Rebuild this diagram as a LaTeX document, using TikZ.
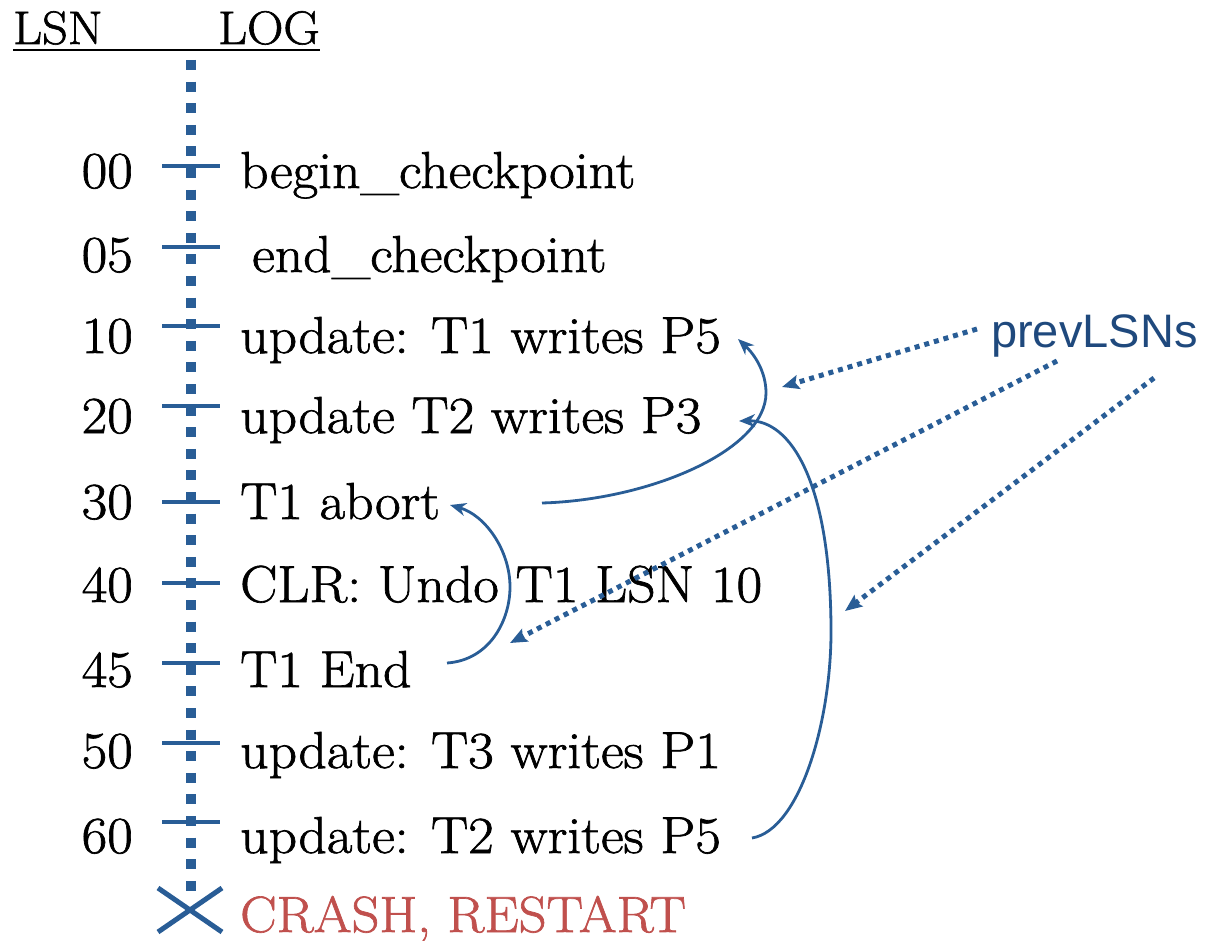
\documentclass[tikz,border=0pt]{standalone}
\usepackage{fontspec}
\newfontfamily\sansf{Liberation Sans}
\newfontfamily\bodyf{Latin Modern Roman}[FakeStretch=1.07,FakeBold=1.3]
\usetikzlibrary{arrows.meta}
\definecolor{lineblue}{RGB}{41,93,150}
\definecolor{labelblue}{RGB}{31,73,125}
\definecolor{crashred}{RGB}{192,80,77}
\begin{document}
\begin{tikzpicture}[x=1pt,y=-1pt,
  body/.style={inner sep=0pt,font=\bodyf\fontsize{52}{60}\selectfont},
  head/.style={inner sep=0pt,font=\bodyf\fontsize{47}{54}\selectfont},
  lsnnum/.style={body,anchor=base east},
  entry/.style={body,anchor=base west},
  logline/.style={lineblue,line width=10pt,dash pattern=on 10pt off 11.6pt},
  tickmark/.style={lineblue,line width=4pt},
  crossmark/.style={lineblue,line width=5pt},
  ptrarrow/.style={lineblue,line width=2.8pt,-{Stealth[length=16pt,width=13pt,inset=5pt]}},
  dotarrow/.style={lineblue,line width=5pt,dash pattern=on 5pt off 5pt,-{Stealth[length=17pt,width=14pt,inset=3pt]}},
  labeltext/.style={inner sep=0pt,anchor=base west,text=labelblue,font=\sansf\fontsize{47}{54}\selectfont}
]
\useasboundingbox (0,0) rectangle (1215,941);

% header
\node[head,anchor=base west] (lsnhead) at (13,44) {LSN};
\node[head,anchor=base west] (loghead) at (218,44) {LOG};
\draw[line width=2.5pt] ([yshift=-6pt]lsnhead.base west) -- ([yshift=-6pt]loghead.base east);

% log line
\coordinate (logtop) at (191,60);
\coordinate (logbot) at (191,902);
\draw[logline] (logtop) -- (logbot);

% ticks
\foreach \y in {166,247,326,406,502,583,663,743,822}
  \draw[tickmark] (162,\y) -- (220,\y);

% crash cross
\draw[crossmark] (158,888) -- (222,932);
\draw[crossmark] (158,932) -- (222,888);

% LSN numbers
\node[lsnnum] (n00) at (133,188) {00};
\node[lsnnum] (n05) at (133,272) {05};
\node[lsnnum] (n10) at (133,353) {10};
\node[lsnnum] (n20) at (133,433) {20};
\node[lsnnum] (n30) at (133,519) {30};
\node[lsnnum] (n40) at (133,602) {40};
\node[lsnnum] (n45) at (133,687) {45};
\node[lsnnum] (n50) at (133,768) {50};
\node[lsnnum] (n60) at (133,853) {60};

% entries
\node[entry] (t00) at (240,188) {begin\_checkpoint};
\node[entry] (t05) at (252,272) {end\_checkpoint};
\node[entry] (t10) at (240,353) {update: T1 writes P5};
\node[entry] (t20) at (240,433) {update T2 writes P3};
\node[entry] (t30) at (240,519) {T1 abort};
\node[entry] (t40) at (240,602) {CLR: Undo T1 LSN 10};
\node[entry] (t45) at (240,687) {T1 End};
\node[entry] (t50) at (240,768) {update: T3 writes P1};
\node[entry] (t60) at (240,853) {update: T2 writes P5};
\node[entry,text=crashred,font=\bodyf\fontsize{51}{58}\selectfont] (crash) at (240,932) {CRASH, RESTART};

% prevLSNs label
\node[labeltext] (prev) at (991,347) {prevLSNs};

% prevLSN pointer curves
\coordinate (a30) at (542,503);
\coordinate (a10) at (738,339);
\coordinate (a60) at (752,838);
\coordinate (a20) at (739,421);
\coordinate (a45) at (447,663);
\coordinate (a30b) at (450,505);
\draw[ptrarrow] (a30) .. controls (650,500) and (766,450) .. (766,393)
   .. controls (766,372) and (755,355) .. (a10);
\draw[ptrarrow] (a60) .. controls (800,830) and (832,720) .. (831,627)
   .. controls (830,480) and (790,420) .. (a20);
\draw[ptrarrow] (a45) .. controls (490,660) and (510,620) .. (510,587)
   .. controls (510,550) and (485,515) .. (a30b);

% dotted arrows from the label
\coordinate (d1s) at (977,329);
\coordinate (d1e) at (782,387);
\coordinate (d2s) at (1057,361);
\coordinate (d2e) at (510,643);
\coordinate (d3s) at (1154,378);
\coordinate (d3e) at (845,611);
\draw[dotarrow] (d1s) -- (d1e);
\draw[dotarrow] (d2s) -- (d2e);
\draw[dotarrow] (d3s) -- (d3e);
\end{tikzpicture}
\end{document}
